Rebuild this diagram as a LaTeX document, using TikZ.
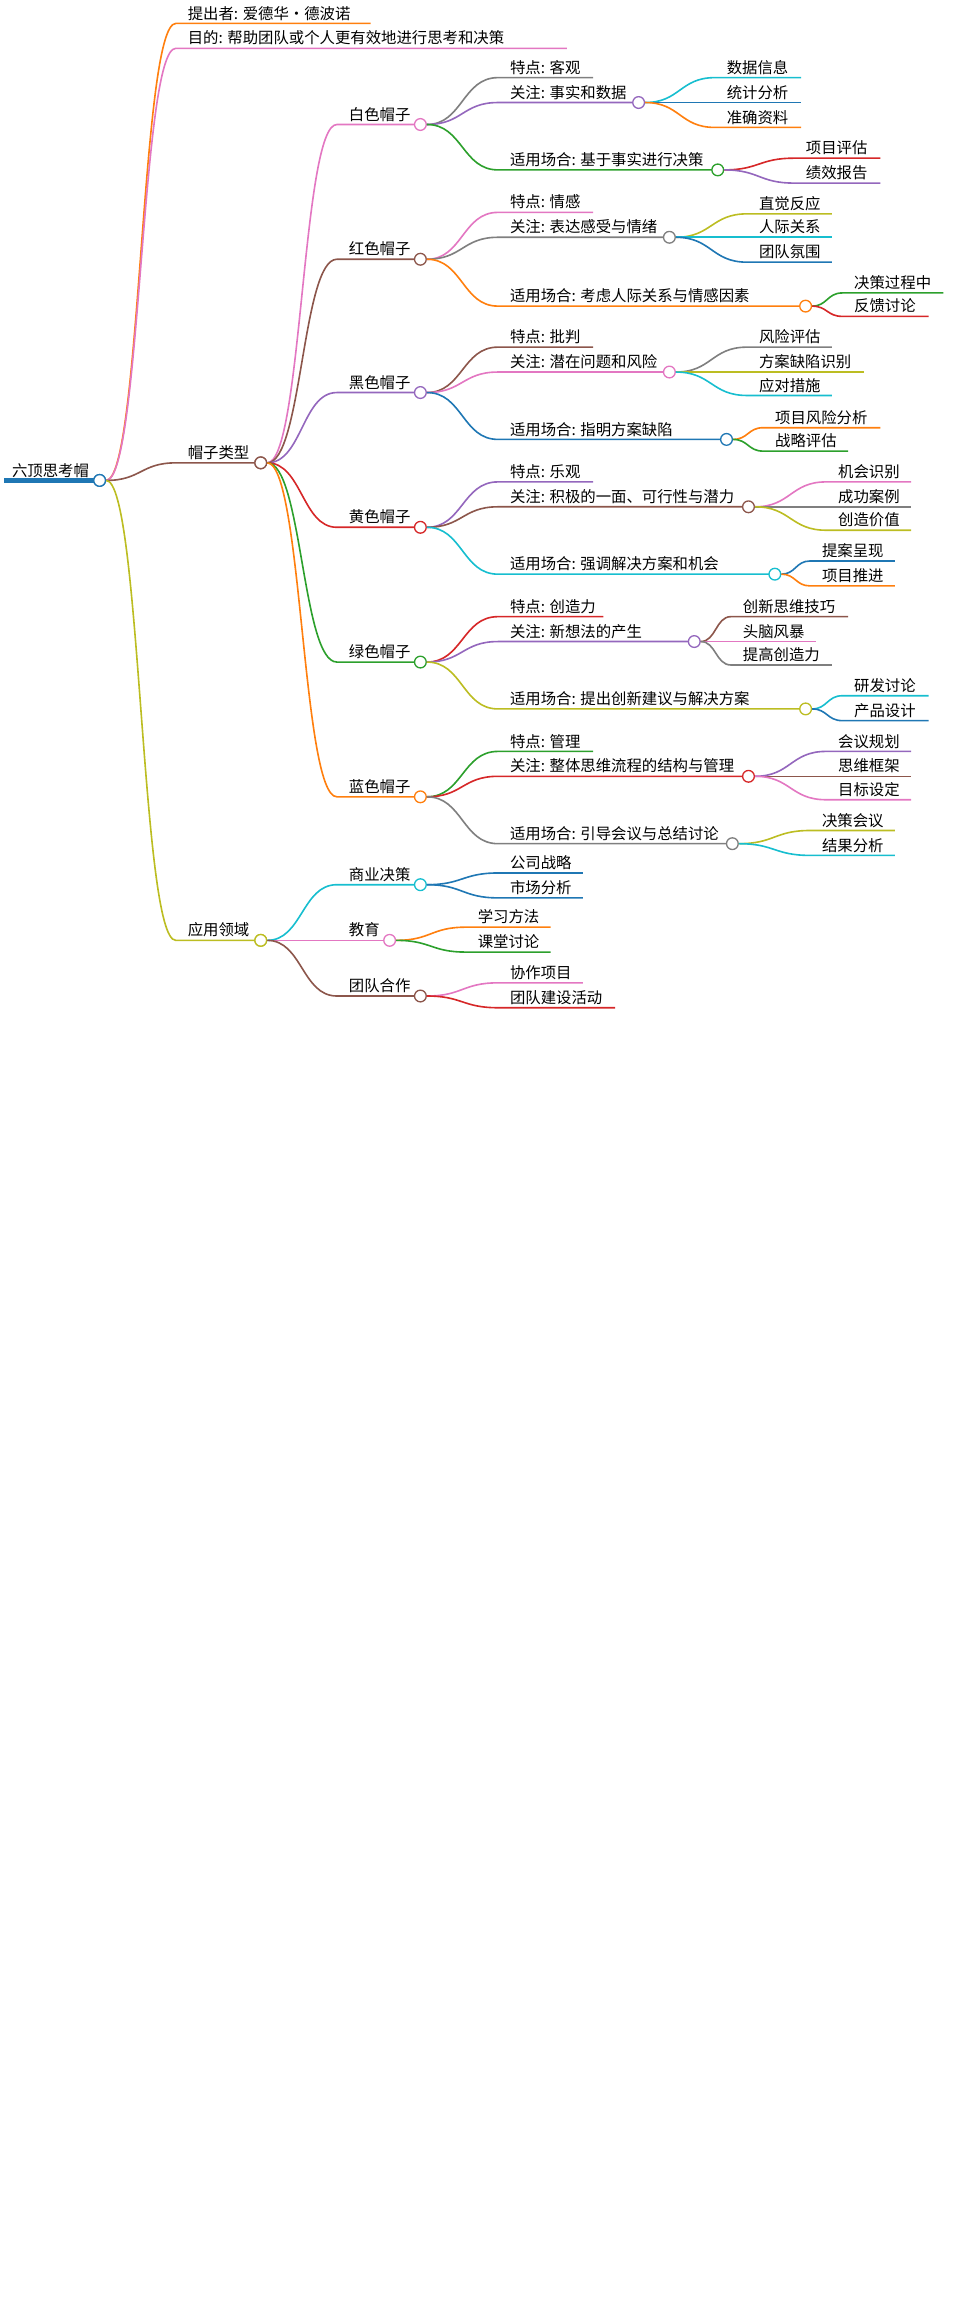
\documentclass[tikz,border=0pt]{standalone}
\usepackage{fontspec}
\setmainfont{Noto Sans CJK SC}
\usetikzlibrary{calc}
\definecolor{cor}{HTML}{FF7F0E}\definecolor{cpk}{HTML}{E377C2}\definecolor{cbr}{HTML}{8C564B}
\definecolor{cpu}{HTML}{9467BD}\definecolor{cgy}{HTML}{7F7F7F}\definecolor{cgn}{HTML}{2CA02C}
\definecolor{crd}{HTML}{D62728}\definecolor{cbl}{HTML}{1F77B4}\definecolor{col}{HTML}{BCBD22}
\definecolor{ccy}{HTML}{17BECF}
\tikzset{edge/.style={line width=1.1pt},
 lab/.style={inner sep=0pt,font=\fontsize{10.5}{12}\selectfont},
 dot/.style={circle,fill=white,line width=0.9pt,minimum size=8pt,inner sep=0pt}}
\newcommand\br[7]{%
 \coordinate (#2s) at (#3-8,#4);
 \coordinate (#2e) at (#5,#4);
 \draw[#6,edge] let \p1=(#1), \p2=(#2s) in (\p1) .. controls (\x1/2+\x2/2,\y1) and (\x1/2+\x2/2,\y2) .. (\p2) -- (#2e);
 \node[lab,anchor=base west] (#2) at (#3,#4-3) {#7};}
\newcommand\dt[4]{\node[dot,draw=#2] (#1) at (#3,#4) {};}
\begin{document}
\begin{tikzpicture}[x=1pt,y=-1pt]
\useasboundingbox (0,0) rectangle (650,1573);
% root
\coordinate (r0) at (3,328);
\draw[cbl,line width=3pt] (r0) -- (64,328);
\node[lab,anchor=base west] (root) at (8,325) {六顶思考帽};
\dt{cR}{cbl}{68}{328}
% level 1
\br{cR.east}{a1}{128}{16}{253}{cor}{提出者: 爱德华・德波诺}
\br{cR.east}{a2}{128}{33}{387}{cpk}{目的: 帮助团队或个人更有效地进行思考和决策}
\br{cR.east}{a3}{128}{316}{174}{cbr}{帽子类型}
\br{cR.east}{a4}{128}{642}{174}{col}{应用领域}
\dt{cA3}{cbr}{178}{316}
\dt{cA4}{col}{178}{642}
% hats
\br{cA3.east}{h1}{238}{85}{283}{cpk}{白色帽子}
\br{cA3.east}{h2}{238}{177}{283}{cbr}{红色帽子}
\br{cA3.east}{h3}{238}{268}{283}{cpu}{黑色帽子}
\br{cA3.east}{h4}{238}{360}{283}{crd}{黄色帽子}
\br{cA3.east}{h5}{238}{452}{283}{cgn}{绿色帽子}
\br{cA3.east}{h6}{238}{544}{283}{cor}{蓝色帽子}
\dt{cH1}{cpk}{287}{85}\dt{cH2}{cbr}{287}{177}\dt{cH3}{cpu}{287}{268}
\dt{cH4}{crd}{287}{360}\dt{cH5}{cgn}{287}{452}\dt{cH6}{cor}{287}{544}
% white
\br{cH1.east}{w1}{348}{53}{405}{cgy}{特点: 客观}
\br{cH1.east}{w2}{348}{70}{432}{cpu}{关注: 事实和数据}
\br{cH1.east}{w3}{348}{116}{486}{cgn}{适用场合: 基于事实进行决策}
\dt{cW2}{cpu}{436}{70}\dt{cW3}{cgn}{490}{116}
\br{cW2.east}{w21}{496}{53}{547}{ccy}{数据信息}
\br{cW2.east}{w22}{496}{70}{547}{cbl}{统计分析}
\br{cW2.east}{w23}{496}{87}{547}{cor}{准确资料}
\br{cW3.east}{w31}{550}{108}{601}{crd}{项目评估}
\br{cW3.east}{w32}{550}{125}{601}{cpu}{绩效报告}
% red
\br{cH2.east}{r1}{348}{145}{405}{cpk}{特点: 情感}
\br{cH2.east}{r2}{348}{162}{453}{cgy}{关注: 表达感受与情绪}
\br{cH2.east}{r3}{348}{209}{546}{cor}{适用场合: 考虑人际关系与情感因素}
\dt{cR2}{cgy}{457}{162}\dt{cR3}{cor}{550}{209}
\br{cR2.east}{r21}{518}{146}{568}{col}{直觉反应}
\br{cR2.east}{r22}{518}{162}{568}{ccy}{人际关系}
\br{cR2.east}{r23}{518}{179}{568}{cbl}{团队氛围}
\br{cR3.east}{r31}{583}{200}{644}{cgn}{决策过程中}
\br{cR3.east}{r32}{583}{216}{634}{crd}{反馈讨论}
% black
\br{cH3.east}{b1}{348}{237}{405}{cbr}{特点: 批判}
\br{cH3.east}{b2}{348}{254}{453}{cpk}{关注: 潜在问题和风险}
\br{cH3.east}{b3}{348}{300}{492}{cbl}{适用场合: 指明方案缺陷}
\dt{cB2}{cpk}{457}{254}\dt{cB3}{cbl}{496}{300}
\br{cB2.east}{b21}{518}{237}{568}{cgy}{风险评估}
\br{cB2.east}{b22}{518}{254}{590}{col}{方案缺陷识别}
\br{cB2.east}{b23}{518}{270}{568}{ccy}{应对措施}
\br{cB3.east}{b31}{529}{292}{601}{cor}{项目风险分析}
\br{cB3.east}{b32}{529}{308}{579}{cgn}{战略评估}
% yellow
\br{cH4.east}{y1}{348}{329}{405}{cpu}{特点: 乐观}
\br{cH4.east}{y2}{348}{346}{507}{cbr}{关注: 积极的一面、可行性与潜力}
\br{cH4.east}{y3}{348}{392}{525}{ccy}{适用场合: 强调解决方案和机会}
\dt{cY2}{cbr}{511}{346}\dt{cY3}{ccy}{529}{392}
\br{cY2.east}{y21}{572}{329}{622}{cpk}{机会识别}
\br{cY2.east}{y22}{572}{346}{622}{cgy}{成功案例}
\br{cY2.east}{y23}{572}{362}{622}{col}{创造价值}
\br{cY3.east}{y31}{561}{383}{611}{cbl}{提案呈现}
\br{cY3.east}{y32}{561}{400}{611}{cor}{项目推进}
% green
\br{cH5.east}{g1}{348}{421}{412}{crd}{特点: 创造力}
\br{cH5.east}{g2}{348}{438}{470}{cpu}{关注: 新想法的产生}
\br{cH5.east}{g3}{348}{484}{546}{col}{适用场合: 提出创新建议与解决方案}
\dt{cG2}{cpu}{474}{438}\dt{cG3}{col}{550}{484}
\br{cG2.east}{g21}{507}{421}{579}{cbr}{创新思维技巧}
\br{cG2.east}{g22}{507}{438}{557}{cpk}{头脑风暴}
\br{cG2.east}{g23}{507}{454}{568}{cgy}{提高创造力}
\br{cG3.east}{g31}{583}{475}{634}{ccy}{研发讨论}
\br{cG3.east}{g32}{583}{492}{634}{cbl}{产品设计}
% blue
\br{cH6.east}{u1}{348}{513}{405}{cgn}{特点: 管理}
\br{cH6.east}{u2}{348}{530}{507}{crd}{关注: 整体思维流程的结构与管理}
\br{cH6.east}{u3}{348}{576}{496}{cgy}{适用场合: 引导会议与总结讨论}
\dt{cU2}{crd}{511}{530}\dt{cU3}{cgy}{500}{576}
\br{cU2.east}{u21}{572}{513}{622}{cpu}{会议规划}
\br{cU2.east}{u22}{572}{530}{622}{cbr}{思维框架}
\br{cU2.east}{u23}{572}{546}{622}{cpk}{目标设定}
\br{cU3.east}{u31}{561}{567}{611}{col}{决策会议}
\br{cU3.east}{u32}{561}{584}{611}{ccy}{结果分析}
% applications
\br{cA4.east}{p1}{238}{604}{283}{ccy}{商业决策}
\br{cA4.east}{p2}{238}{642}{262}{cpk}{教育}
\br{cA4.east}{p3}{238}{680}{283}{cbr}{团队合作}
\dt{cP1}{ccy}{287}{604}\dt{cP2}{cpk}{266}{642}\dt{cP3}{cbr}{287}{680}
\br{cP1.east}{p11}{348}{596}{398}{cbl}{公司战略}
\br{cP1.east}{p12}{348}{613}{398}{cbl}{市场分析}
\br{cP2.east}{p21}{326}{633}{376}{cor}{学习方法}
\br{cP2.east}{p22}{326}{650}{376}{cgn}{课堂讨论}
\br{cP3.east}{p31}{348}{671}{398}{cpk}{协作项目}
\br{cP3.east}{p32}{348}{688}{420}{crd}{团队建设活动}
% redraw dots on top
\dt{cR}{cbl}{68}{328}\dt{cA3}{cbr}{178}{316}\dt{cA4}{col}{178}{642}
\end{tikzpicture}
\end{document}
